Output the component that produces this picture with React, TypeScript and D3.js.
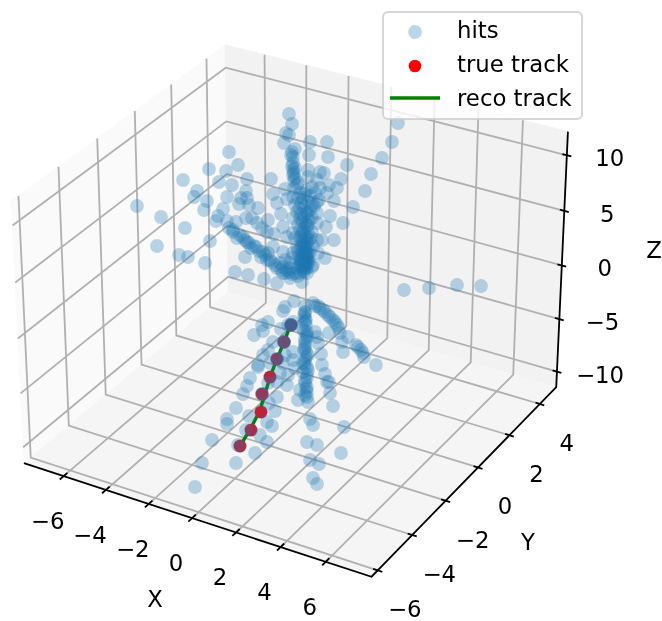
import React from "react";
import * as d3 from "d3";

// Axis ranges and ticks
const xLim: [number, number] = [-7.9, 8.0];
const yLim: [number, number] = [-6.35, 5.1];
const zLim: [number, number] = [-11.5, 12.1];
const xTicks = [-6, -4, -2, 0, 2, 4, 6];
const yTicks = [-6, -4, -2, 0, 2, 4];
const zTicks = [-10, -5, 0, 5, 10];

// Hits (view units, origin at the box centre)
const hitsU = [-6,-3,-9,-6,-11,15,32,103,97,87,76,70,58,48,39,30,0,-3,-2,14,33,52,46,42,34,39,35,31,27,-66,-57,-86,-69,-112,-76,-63,-48,-24,-98,-101,-88,-68,-49,-48,-54,-56,-46,-37,-158,-134,-91,-72,-77,-79,-68,-59,-49,-43,-110,-66,-55,-50,-41,-85,-138,-116,-107,-90,-50,-60,-47,-31,-18,-34,-27,-38,-33,-28,-21,-12,-8,-14,-22,-18,-10,-8,-3,-2,-2,-1,2,13,25,29,13,22,17,25,32,22,17,12,5,-2,0,2,12,22,17,5,-2,3,13,22,17,8,-2,5,12,22,10,2,7,15,23,12,5,-2,-12,-22,-27,-25,-20,-12,-5,2,10,17,-12,-5,7,5,12,18,8,12,10,7,12,-5,0,5,-8,-15,-3,4,10,8,3,13,-10,6,9,5,10,4,8,0,9,10,11,8,10,7,12,9,6,12,-62,-58,-46,-44,-36,-30,-1,-10,-12,18,23,28,10,33,38,42,10,-2,-7,-27,-33,-32,-41,-14,12,20,34,45,53,47,61,68,69,81,48,10,10,23,26,10,12,27,30,34,32,35,12,12,10,5,3,13,38,-22,-27,-32,-37,-37,-25,-12,-2,-10,-2,0,-15,-7,-8,-18,-27,-45,-48,-52,-18,-26,-20,-59,-68,-68,-46,-28,-23,-49,-35,-28,-83,-40,-59,-93,-100,15,18,49,12,22,46,15,24,18,22,-57,10,11,12,10,11,13,10,12,8,10,7,13,8,22,109,134,162,186,
  10,8,12,9,11,14,6,8,11,13,9,12,7,14,10,6,13,9,12,7,14,9,12,6,15,9,13,6,19,10,15,20,3,-1,24,16,18,3,
  -62,-52,-48,-39,-32,-28,-23,-18,-14,-9,-3,-6,
  10,9,11,9,12,10,9,11,10,12,10,11,12,20,25,30,35,40,44,63,66,
  -2,-1,0,0,3,-4,
  -55,-44,-34,-33,-25,-18,-11,-4,-33,-18,-11,-4,-11,-4];
const hitsV = [184,174,165,163,155,156,156,175,156,140,124,107,91,75,58,40,149,146,141,143,141,133,119,110,113,97,82,71,58,146,133,129,127,118,116,113,119,119,107,101,97,101,107,100,100,94,93,90,92,81,88,89,82,77,77,76,80,80,70,70,63,58,52,57,52,43,41,35,41,26,23,19,15,41,78,75,70,66,64,71,61,84,104,95,109,99,132,128,123,118,113,128,126,125,121,118,111,110,105,96,93,108,105,101,93,86,86,85,80,80,80,73,73,75,66,66,65,60,60,58,53,51,45,46,45,40,38,45,46,51,45,38,33,31,35,30,31,31,25,20,16,25,25,33,35,45,48,53,51,30,25,33,28,35,40,42,42,28,22,38,38,50,58,68,75,90,100,60,36,34,38,40,44,30,30,26,34,34,66,60,55,50,47,43,-3,-9,-13,-5,-8,-12,-14,-17,-22,-27,-24,-24,-27,-24,-27,-33,-37,-31,-34,-34,-35,-35,-39,-44,-47,-55,-59,-67,-54,-44,-50,-45,-56,-62,-69,-67,-76,-84,-84,-95,-80,-89,-97,-92,-102,-104,-108,-44,-52,-57,-67,-69,-65,-65,-54,-57,-62,-70,-75,-77,-87,-84,-85,-80,-88,-96,-99,-105,-113,-110,-121,-126,-118,-124,-128,-132,-137,-144,-142,-155,-165,-165,-189,-121,-127,-129,-144,-147,-155,-162,-166,-180,-186,-147,-15,-27,-39,-47,-54,-72,-82,-94,-74,-20,-30,-57,-65,-39,8,10,13,12,
  30,33,37,41,43,36,38,44,48,44,52,55,56,58,62,62,65,70,72,76,78,82,84,84,88,92,96,95,92,104,102,105,100,110,98,60,52,47,
  68,61,56,51,46,38,36,30,28,25,24,26,
  -8,-17,-22,-33,-37,-41,-52,-59,-66,-76,-85,-91,-99,-8,-10,-14,-19,-24,-30,-49,-52,
  135,125,130,120,115,143,
  -148,-132,-114,-96,-79,-61,-44,-27,-96,-61,-44,-27,-44,-27];

// Track points (same image-plane units)
const trueU = [-55,-44,-34,-33,-25,-18,-11,-4];
const trueV = [-148,-132,-114,-96,-79,-61,-44,-27];
const recoU = [-55,-44,-35,-30,-25,-18,-11,-4];
const recoV = [-148,-130,-112,-96,-79,-61,-44,-26];

const legendLabels = ["hits", "true track", "reco track"];

const W = 662, H = 621;
const FONT = "'DejaVu Sans', sans-serif";
const FS = 22.8;
const R = 6.9;
const R_TRUE = 6.3;

// Matplotlib-style mplot3d camera: elev 30, azim -60, dist 10, box aspect 4:4:3
const boxSize = [1.1905, 1.1905, 0.8929];
const U = [0.866025, 0.5, 0];
const Vv = [-0.25, 0.433013, 0.866025];
const Wv = [0.433013, -0.75, 0.5];
const DIST = 10;
const viewPerNdc = 3345;

const xS = d3.scaleLinear().domain(xLim).range([0, boxSize[0]]);
const yS = d3.scaleLinear().domain(yLim).range([0, boxSize[1]]);
const zS = d3.scaleLinear().domain(zLim).range([0, boxSize[2]]);
const viewX = d3.scaleLinear().domain([-295, 367]).range([0, W]);
const viewY = d3.scaleLinear().domain([298, -323]).range([0, H]);

function project(x: number, y: number, z: number): [number, number] {
  const d = [xS(x) - boxSize[0] / 2, yS(y) - boxSize[1] / 2, zS(z) - boxSize[2] / 2];
  const a = d[0] * U[0] + d[1] * U[1] + d[2] * U[2];
  const b = d[0] * Vv[0] + d[1] * Vv[1] + d[2] * Vv[2];
  const c = d[0] * Wv[0] + d[1] * Wv[1] + d[2] * Wv[2];
  return [viewX((a / (DIST - c)) * viewPerNdc), viewY((b / (DIST - c)) * viewPerNdc)];
}

const line = d3.line();
const path3 = (pts: [number, number, number][]) =>
  line(pts.map((p) => project(p[0], p[1], p[2])))!;

const [x0, x1] = xLim, [y0, y1] = yLim, [z0, z1] = zLim;
const GRID = "#b0b0b0";
const GW = 1.8;
const TICK = 0.2;

const panes = [
  { fill: "#fafafa", pts: [[x0, y0, z0], [x0, y1, z0], [x0, y1, z1], [x0, y0, z1]] },
  { fill: "#f2f2f2", pts: [[x0, y1, z0], [x1, y1, z0], [x1, y1, z1], [x0, y1, z1]] },
  { fill: "#f5f5f5", pts: [[x0, y0, z0], [x1, y0, z0], [x1, y1, z0], [x0, y1, z0]] },
] as { fill: string; pts: [number, number, number][] }[];

const gridPaths = [
  ...xTicks.map((t) => path3([[t, y0, z0], [t, y1, z0], [t, y1, z1]])),
  ...yTicks.map((t) => path3([[x1, t, z0], [x0, t, z0], [x0, t, z1]])),
  ...zTicks.map((t) => path3([[x0, y0, t], [x0, y1, t], [x1, y1, t]])),
];

const tickStyle = { fontFamily: FONT, fontSize: FS, fill: "#000" };

type Seg = [[number, number, number], [number, number, number]];

export default function App() {
  const xTickSegs = xTicks.map((t) => [[t, y0 + TICK, z0], [t, y0 - TICK, z0]] as Seg);
  const yTickSegs = yTicks.map((t) => [[x1 - TICK, t, z0], [x1 + TICK, t, z0]] as Seg);
  const zTickSegs = zTicks.map((t) => [[x1 - TICK, y1, t], [x1 + TICK, y1, t]] as Seg);
  const fmt = (t: number) => (t < 0 ? "\u2212" + Math.abs(t) : String(t));

  const labelAt = (p: [number, number], dx: number, dy: number, s: string, key: string) => (
    <text key={key} x={p[0] + dx} y={p[1] + dy} textAnchor="middle" dominantBaseline="central" style={tickStyle}>{s}</text>
  );

  return (
    <svg width={W} height={H} viewBox={`0 0 ${W} ${H}`} style={{ position: "absolute", left: 0, top: 0, background: "#fff" }}>
      <g style={{ filter: "blur(0.55px)" }}>
        {panes.map((p, i) => <path key={i} d={path3(p.pts) + "Z"} fill={p.fill} stroke={p.fill} strokeWidth={1} />)}
        {gridPaths.map((d, i) => <path key={i} d={d} fill="none" stroke={GRID} strokeWidth={GW} />)}
        <path d={path3([[x0, y0, z0], [x1, y0, z0], [x1, y1, z0], [x1, y1, z1]])} fill="none" stroke="#000" strokeWidth={1.8} />
        {[...xTickSegs, ...yTickSegs, ...zTickSegs].map((seg, i) => <path key={i} d={path3(seg)} fill="none" stroke="#000" strokeWidth={1.8} />)}
        {xTicks.map((t) => labelAt(project(t, y0, z0), -16, 45, fmt(t), "x" + t))}
        {yTicks.map((t) => labelAt(project(x1, t, z0), 27, 39, fmt(t), "y" + t))}
        {zTicks.map((t) => labelAt(project(x1, y1, t), 43, 3, fmt(t), "z" + t))}
        <text x={155} y={599} textAnchor="middle" dominantBaseline="central" style={tickStyle}>X</text>
        <text x={528} y={542} textAnchor="middle" dominantBaseline="central" style={tickStyle}>Y</text>
        <text x={654} y={250} textAnchor="middle" dominantBaseline="central" style={tickStyle}>Z</text>

        <path d={line(recoU.map((u, i) => [viewX(u), viewY(recoV[i])] as [number, number]))!} fill="none" stroke="#008000" strokeWidth={3.4} />
        {trueU.map((u, i) => <circle key={i} cx={viewX(u)} cy={viewY(trueV[i])} r={R_TRUE} fill="#ff0000" />)}
        {hitsU.map((u, i) => <circle key={i} cx={viewX(u)} cy={viewY(hitsV[i])} r={R} fill="#1f77b4" fillOpacity={0.3} />)}

        <rect x={383} y={12} width={199} height={107} rx={5} fill="#fff" fillOpacity={0.8} stroke="#cccccc" strokeOpacity={0.8} strokeWidth={2} />
        <circle cx={415} cy={32} r={R} fill="#1f77b4" fillOpacity={0.3} />
        <circle cx={415} cy={66} r={R_TRUE} fill="#ff0000" />
        <line x1={390} x2={440} y1={98} y2={98} stroke="#008000" strokeWidth={3.4} />
        {legendLabels.map((s, i) => (
          <text key={s} x={457} y={30 + i * 34} dominantBaseline="central" style={tickStyle}>{s}</text>
        ))}
      </g>
    </svg>
  );
}
